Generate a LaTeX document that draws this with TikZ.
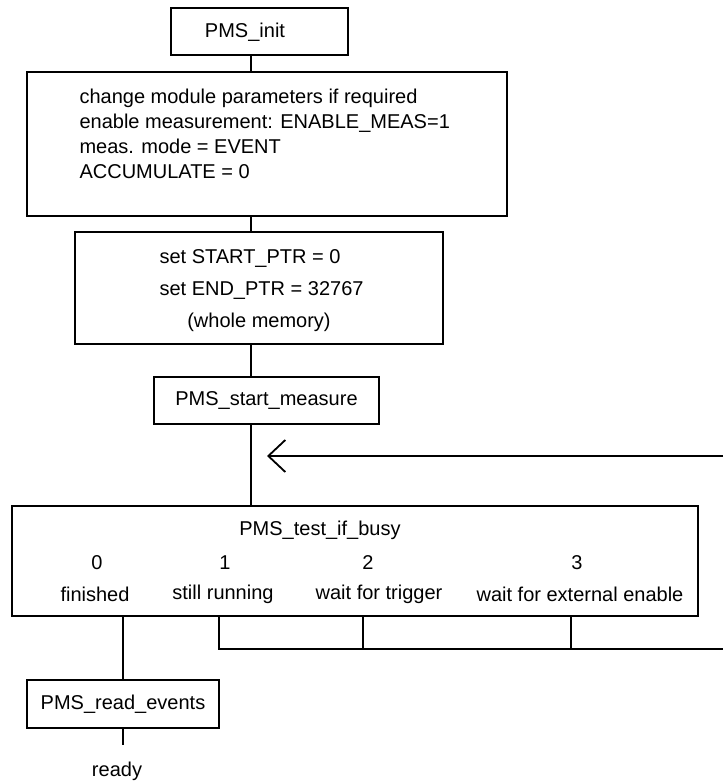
\documentclass[tikz,border=0pt]{standalone}
\usepackage{fontspec}
\setmainfont{Liberation Sans}
\usetikzlibrary{arrows.meta}

\begin{document}
\begin{tikzpicture}[
            x = 1pt, y = -1pt, % pixel units, y runs downwards
            > = {Straight Barb[length=17pt,width=32pt]}, % open arrow head
            font = \fontsize{20}{25}\selectfont,
            line width = 2.4pt % line style
        ]

        \tikzstyle{block}=[
            draw = black,
            line width = 2.6pt,
            fill = white,
            inner sep = 0pt
        ]

        \useasboundingbox (0,0) rectangle (723,783);

        % boxes
        \node[block, minimum width=177pt, minimum height=47pt] (init) at (259.5,31.5) {};
        \node (initname) at (245,32) {PMS\_init};

        \node[block, minimum width=480pt, minimum height=144pt] (param) at (267,144) {};
        \node[align=left, anchor=west] (paramtxt) at (75,134) {change module parameters if required\\
            enable measurement: ENABLE\_MEAS=1\\
            meas. mode = EVENT\\
            ACCUMULATE = 0};

        \node[block, minimum width=368pt, minimum height=112pt] (ptr) at (259,288) {};
        \node[anchor=west] (startptr) at (155,259) {set START\_PTR = 0};
        \node[anchor=west] (endptr) at (155,291) {set END\_PTR = 32767};
        \node (whole) at (259,322) {(whole memory)};

        \node[block, minimum width=225pt, minimum height=47pt] (start) at (266.5,400.5) {PMS\_start\_measure};

        \node[block, minimum width=686pt, minimum height=110pt] (busy) at (355,561) {};
        \node (busyname) at (320,530) {PMS\_test\_if\_busy};
        \node (n0) at (97,563) {0};
        \node (n1) at (225,563) {1};
        \node (n2) at (368,563) {2};
        \node (n3) at (577,563) {3};
        \node (s0) at (95,594) {finished};
        \node (s1) at (223,594) {still running};
        \node (s2) at (379,594) {wait for trigger};
        \node (s3) at (580,594) {wait for external enable};

        \node[block, minimum width=192pt, minimum height=48pt] (read) at (123,704) {PMS\_read\_events};
        \node (ready) at (117,771) {ready};

        % connectors
        \coordinate (spine) at (251,0);
        \draw (init.south -| spine) -- (param.north -| spine);
        \draw (param.south -| spine) -- (ptr.north -| spine);
        \draw (ptr.south -| spine) -- (start.north -| spine);
        \draw (start.south -| spine) -- (busy.north -| spine);

        \coordinate (loopin) at (723,456);
        \coordinate (looptip) at (267,456);
        \draw[->, line width=1.8pt] (loopin) -- (looptip);

        \coordinate (tap1) at (219,649);
        \coordinate (tap2) at (363,649);
        \coordinate (tap3) at (571,649);
        \coordinate (loopout) at (723,649);
        \draw (busy.south -| tap1) -- (tap1) -- (loopout);
        \draw (busy.south -| tap2) -- (tap2);
        \draw (busy.south -| tap3) -- (tap3);

        \coordinate (readyend) at (0,745);
        \draw (busy.south -| read.north) -- (read.north);
        \draw (read.south) -- (read.south |- readyend);
    \end{tikzpicture}
\end{document}
